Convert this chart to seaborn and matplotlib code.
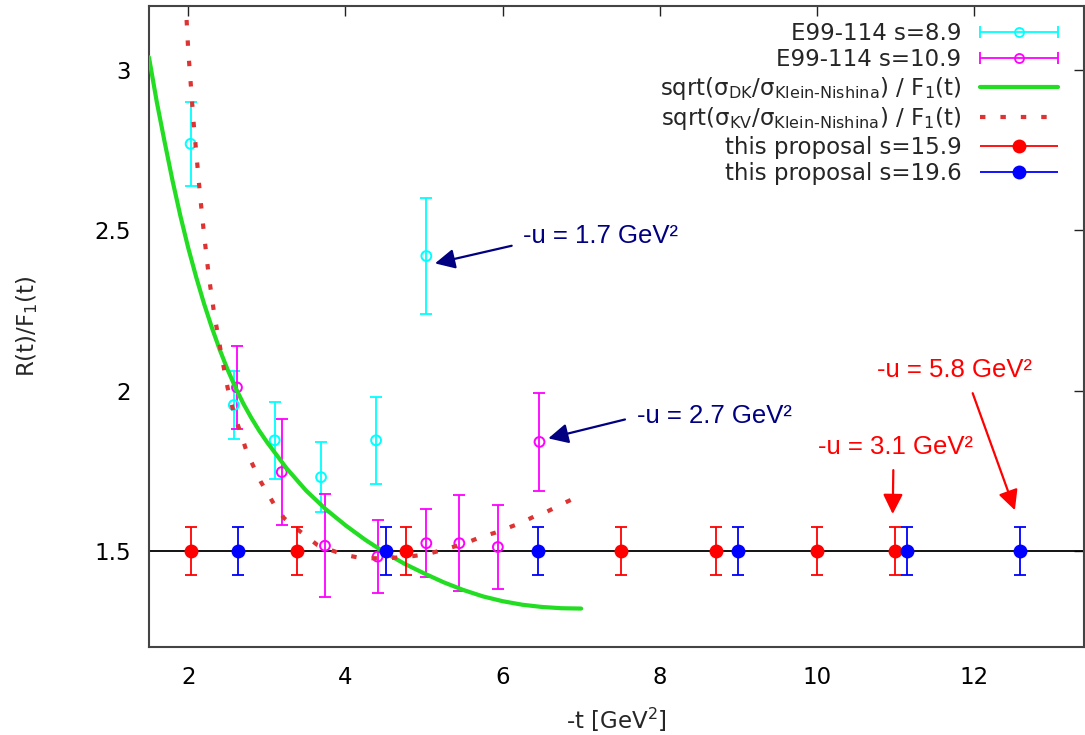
import numpy as np
import matplotlib
matplotlib.use("Agg")
import matplotlib.pyplot as plt
import seaborn as sns
from matplotlib.container import ErrorbarContainer
from matplotlib.legend_handler import HandlerErrorbar

# ---------------- data ----------------
e8_t = [2.03, 2.58, 3.10, 3.69, 4.39, 5.03]
e8_r = [2.77, 1.955, 1.845, 1.73, 1.845, 2.42]
e8_err = [0.13, 0.105, 0.12, 0.11, 0.135, 0.18]

e10_t = [2.62, 3.19, 3.74, 4.41, 5.03, 5.45, 5.94, 6.47]
e10_r = [2.01, 1.746, 1.516, 1.482, 1.524, 1.524, 1.512, 1.84]
e10_err = [0.13, 0.165, 0.16, 0.115, 0.107, 0.15, 0.13, 0.152]

p159_t = [2.04, 3.38, 4.77, 7.51, 8.71, 10.0, 10.99]
p159_r = [1.5, 1.5, 1.5, 1.5, 1.5, 1.5, 1.5]
p159_err = [0.075, 0.075, 0.075, 0.075, 0.075, 0.075, 0.075]

p196_t = [2.63, 4.52, 6.45, 9.0, 11.15, 12.59]
p196_r = [1.5, 1.5, 1.5, 1.5, 1.5, 1.5]
p196_err = [0.075, 0.075, 0.075, 0.075, 0.075, 0.075]

dk_t = [1.5, 1.6, 1.7, 1.8, 1.9, 2.0, 2.1, 2.2, 2.3, 2.4, 2.5, 2.6, 2.7, 2.8,
        2.9, 3.0, 3.25, 3.5, 3.75, 4.0, 4.25, 4.5, 4.75, 5.0, 5.25, 5.5, 5.75,
        6.0, 6.25, 6.5, 6.75, 7.0]
dk_r = [3.04, 2.90, 2.775, 2.655, 2.545, 2.445, 2.355, 2.272, 2.197, 2.128,
        2.066, 2.010, 1.960, 1.916, 1.876, 1.840, 1.758, 1.688, 1.630, 1.580,
        1.535, 1.495, 1.460, 1.430, 1.402, 1.378, 1.358, 1.343, 1.332, 1.325,
        1.321, 1.320]

kv_t = [1.965, 2.0, 2.04, 2.07, 2.11, 2.15, 2.20, 2.26, 2.33, 2.43, 2.5, 2.58,
        2.67, 2.75, 2.92, 3.11, 3.22, 3.37, 3.64, 3.81, 3.98, 4.15, 4.34, 4.55,
        4.87, 5.04, 5.21, 5.38, 5.55, 5.72, 5.91, 6.06, 6.24, 6.40, 6.57, 6.74, 6.92]
kv_r = [3.22, 3.06, 2.93, 2.83, 2.72, 2.61, 2.49, 2.36, 2.24, 2.10, 2.01, 1.93,
        1.865, 1.805, 1.717, 1.638, 1.602, 1.571, 1.519, 1.503, 1.488, 1.48, 1.477,
        1.477, 1.484, 1.49, 1.501, 1.513, 1.526, 1.543, 1.557, 1.571, 1.588, 1.607,
        1.623, 1.644, 1.665]

ref_level = 1.5

labels = ["E99-114 s=8.9", "E99-114 s=10.9",
          "sqrt(σ$_{\\mathrm{DK}}$/σ$_{\\mathrm{Klein\\text{-}Nishina}}$) / F$_1$(t)",
          "sqrt(σ$_{\\mathrm{KV}}$/σ$_{\\mathrm{Klein\\text{-}Nishina}}$) / F$_1$(t)",
          "this proposal s=15.9", "this proposal s=19.6"]

x_ticks = [2, 4, 6, 8, 10, 12]
y_ticks = [1.5, 2, 2.5, 3]
y_ticklabels = ["1.5", "2", "2.5", "3"]

annotations = [
    ("-u = 1.7 GeV²", (6.26, 2.482), (6.116, 2.452), (5.14, 2.397), "#000080"),
    ("-u = 2.7 GeV²", (7.707, 1.921), (7.558, 1.910), (6.582, 1.851), "#000080"),
    ("-u = 5.8 GeV²", (10.762, 2.064), (11.983, 1.992), (12.52, 1.627), "#ff0000"),
    ("-u = 3.1 GeV²", (10.017, 1.824), (10.973, 1.752), (10.965, 1.615), "#ff0000"),
]

# ---------------- style ----------------
sns.set_theme(style="white")
plt.rcParams["font.family"] = ["DejaVu Sans"]
plt.rcParams["mathtext.fontset"] = "dejavusans"

FS = 16.5
fig = plt.figure(figsize=(10.85, 7.35), dpi=100)
ax = fig.add_axes([0.1373, 0.1197, 0.8618, 0.8721])

cyan, magenta, green, kvred, red, blue = "#00ffff", "#ff00ff", "#22dd22", "#dd3333", "#ff0000", "#0000ff"

# reference line
ax.axhline(ref_level, color="black", lw=1.3, zorder=1)

# E99-114 data (open circles with errorbars)
for t, r, e, c in [(e8_t, e8_r, e8_err, cyan), (e10_t, e10_r, e10_err, magenta)]:
    ax.errorbar(t, r, yerr=e, fmt="none", ecolor=c, elinewidth=1.3, capsize=4, capthick=1.3, zorder=3)
    sns.scatterplot(x=t, y=r, ax=ax, marker="o", s=50, color=c, facecolor="none",
                    edgecolor=c, linewidth=1.4, zorder=4, legend=False)

# curves
sns.lineplot(x=dk_t, y=dk_r, ax=ax, color=green, lw=3.0, sort=False, estimator=None, zorder=5)
sns.lineplot(x=kv_t, y=kv_r, ax=ax, color=kvred, lw=3.0, sort=False, estimator=None, zorder=5,
             dashes=False, linestyle=(0, (1.3, 3.6)))

# proposal points
for t, r, e, c in [(p159_t, p159_r, p159_err, red), (p196_t, p196_r, p196_err, blue)]:
    ax.errorbar(t, r, yerr=e, fmt="none", ecolor=c, elinewidth=1.3, capsize=4, capthick=1.3, zorder=6)
    sns.scatterplot(x=t, y=r, ax=ax, marker="o", s=100, color=c, edgecolor=c,
                    linewidth=0, zorder=7, legend=False)

ax.set_xlim(1.5, 13.4)
ax.set_ylim(1.2, 3.2)
ax.set_xticks(x_ticks)
ax.set_xticklabels([str(v) for v in x_ticks])
ax.set_yticks(y_ticks)
ax.set_yticklabels(y_ticklabels)
ax.tick_params(direction="in", length=7, width=1.0, colors="#222222", labelsize=FS,
               top=True, right=True, labelcolor="black")
ax.tick_params(axis="y", pad=13)
ax.tick_params(axis="x", pad=14)
for s in ax.spines.values():
    s.set_color("#444444")
    s.set_linewidth(1.5)
ax.set_xlabel("-t [GeV$^2$]", fontsize=FS, labelpad=12)
ax.set_ylabel("R(t)/F$_1$(t)", fontsize=FS, labelpad=39)

# legend proxies
h_e8 = ax.errorbar([np.nan], [np.nan], xerr=[1], fmt="o", color=cyan, mfc="none", mec=cyan,
                   ms=6.5, mew=1.3, elinewidth=1.3, capsize=4, capthick=1.3)
h_e10 = ax.errorbar([np.nan], [np.nan], xerr=[1], fmt="o", color=magenta, mfc="none", mec=magenta,
                    ms=6.5, mew=1.3, elinewidth=1.3, capsize=4, capthick=1.3)
h_p1 = ax.errorbar([np.nan], [np.nan], xerr=[1], fmt="o", color=red, ms=10, mew=0,
                   elinewidth=1.3, capsize=4, capthick=1.3)
h_p2 = ax.errorbar([np.nan], [np.nan], xerr=[1], fmt="o", color=blue, ms=10, mew=0,
                   elinewidth=1.3, capsize=4, capthick=1.3)
h_dk = plt.Line2D([], [], color=green, lw=3.0)
h_kv = plt.Line2D([], [], color=kvred, lw=3.0, linestyle=(0, (1.3, 3.6)))

leg = ax.legend([h_e8, h_e10, h_dk, h_kv, h_p1, h_p2], labels,
                loc="upper right", bbox_to_anchor=(0.972, 0.975), borderaxespad=0,
                frameon=False, fontsize=FS, markerfirst=False, handlelength=3.4,
                handletextpad=0.8, labelspacing=0.15, borderpad=0,
                handler_map={ErrorbarContainer: HandlerErrorbar(xerr_size=1.7, numpoints=1)})

for text, txy, start, tip, c in annotations:
    ax.text(txy[0], txy[1], text, color=c, fontsize=18.5, family="Liberation Sans",
            ha="left", va="center", zorder=8)
    ax.annotate("", xy=tip, xytext=start,
                arrowprops=dict(arrowstyle="-|>,head_length=0.6,head_width=0.3",
                                color=c, lw=1.6, mutation_scale=20, shrinkA=0, shrinkB=0),
                zorder=8)

fig.savefig("out.png", dpi=100)
